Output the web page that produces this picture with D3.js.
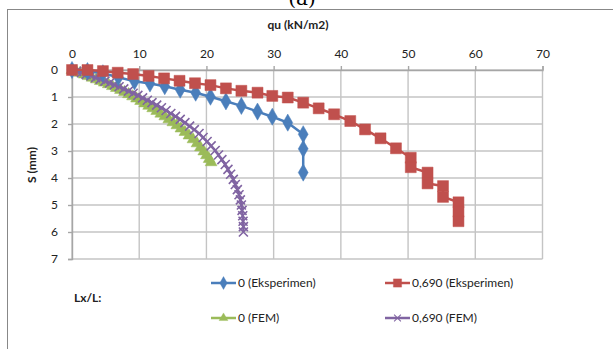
<!DOCTYPE html>
<html>
<head>
<meta charset="utf-8">
<script src="https://cdn.jsdelivr.net/npm/d3@7"></script>
<style>
  html, body { margin: 0; padding: 0; background: #fff; }
  svg { display: block; font-family: Lato, "Open Sans", sans-serif; }
</style>
</head>
<body>
<svg id="chart" width="613" height="349"></svg>
<script>
// Load (qu, kN/m2) vs settlement (S, mm)
const xTicks = [0, 10, 20, 30, 40, 50, 60, 70];
const yTicks = [0, 1, 2, 3, 4, 5, 6, 7];

// Lx/L = 0, experiment
const quExp0 = [0, 2.3, 4.6, 6.9, 9.3, 11.6, 13.8, 16.1, 18.4, 20.6, 22.9, 25.2, 27.6, 29.8, 32.1, 34.4, 34.4, 34.4];
const sExp0  = [0, 0.04, 0.12, 0.27, 0.42, 0.5, 0.6, 0.73, 0.84, 0.99, 1.16, 1.33, 1.54, 1.73, 1.95, 2.38, 2.92, 3.8];

// Lx/L = 0,690, experiment
const quExp69 = [0, 2.3, 4.6, 6.8, 9.1, 11.4, 13.7, 16.0, 18.3, 20.6, 22.9, 25.2, 27.6, 29.8, 32.1, 34.4, 36.7, 39.0, 41.4, 43.6, 45.9, 48.2, 50.4, 50.4, 52.9, 52.9, 55.2, 55.2, 57.5, 57.5, 57.5];
const sExp69  = [0, 0, 0.04, 0.1, 0.15, 0.22, 0.31, 0.4, 0.49, 0.56, 0.68, 0.77, 0.84, 0.96, 1.02, 1.21, 1.42, 1.64, 1.89, 2.2, 2.53, 2.9, 3.25, 3.6, 3.8, 4.2, 4.3, 4.7, 4.9, 5.25, 5.6];

// Lx/L = 0, FEM
const quFem0 = [0, 0.6, 1.2, 1.8, 2.4, 3.0, 3.6, 4.2, 4.8, 5.4, 6.0, 6.6, 7.2, 7.8, 8.4, 9.0, 9.6, 10.2, 10.8, 11.4, 12.0, 12.6, 13.2, 13.8, 14.4, 15.0, 15.6, 16.2, 16.8, 17.4, 18.0, 18.6, 19.1, 19.6, 20.0, 20.4, 20.7];
const sFem0  = [0, 0.05, 0.11, 0.17, 0.23, 0.29, 0.35, 0.41, 0.47, 0.53, 0.6, 0.67, 0.74, 0.82, 0.9, 0.98, 1.06, 1.15, 1.24, 1.33, 1.42, 1.52, 1.62, 1.72, 1.83, 1.94, 2.05, 2.17, 2.3, 2.43, 2.57, 2.72, 2.87, 3.02, 3.16, 3.3, 3.42];

// Lx/L = 0,690, FEM
const quFem69 = [0, 0.7, 1.4, 2.1, 2.8, 3.5, 4.2, 4.9, 5.6, 6.3, 7.0, 7.7, 8.4, 9.1, 9.8, 10.5, 11.2, 11.9, 12.6, 13.3, 14.0, 14.7, 15.4, 16.1, 16.8, 17.5, 18.2, 18.9, 19.5, 20.1, 20.7, 21.3, 21.8, 22.3, 22.8, 23.2, 23.6, 24.0, 24.3, 24.6, 24.85, 25.05, 25.2, 25.3, 25.4, 25.45, 25.5, 25.5];
const sFem69  = [0, 0.05, 0.1, 0.16, 0.22, 0.28, 0.34, 0.41, 0.48, 0.55, 0.62, 0.7, 0.78, 0.86, 0.94, 1.03, 1.12, 1.21, 1.3, 1.4, 1.5, 1.61, 1.72, 1.83, 1.95, 2.08, 2.21, 2.35, 2.5, 2.65, 2.81, 2.98, 3.15, 3.32, 3.5, 3.68, 3.86, 4.05, 4.24, 4.43, 4.62, 4.81, 5.0, 5.2, 5.4, 5.6, 5.8, 6.0];

const seriesNames = ["0 (Eksperimen)", "0,690 (Eksperimen)", "0 (FEM)", "0,690 (FEM)"];
const seriesColors = ["#4A7EBB", "#C0504D", "#9BBB59", "#8064A2"];

const series = [
  { name: seriesNames[0], color: seriesColors[0], shape: "diamond", x: quExp0,  y: sExp0 },
  { name: seriesNames[1], color: seriesColors[1], shape: "square",  x: quExp69, y: sExp69 },
  { name: seriesNames[2], color: seriesColors[2], shape: "triangle",x: quFem0,  y: sFem0 },
  { name: seriesNames[3], color: seriesColors[3], shape: "cross",   x: quFem69, y: sFem69 }
];

const svg = d3.select("#chart");

// chart frame and caption above it
svg.append("text").attr("x", 302).attr("y", 5).attr("text-anchor", "middle")
  .attr("font-family", "'DejaVu Serif', serif").attr("font-size", 20).attr("fill", "#000").text("(a)");
svg.append("rect").attr("x", 7.5).attr("y", 9.5).attr("width", 640).attr("height", 360)
  .attr("fill", "#fff").attr("stroke", "#888").attr("stroke-width", 1);

const x = d3.scaleLinear().domain([0, 70]).range([72, 542.5]);
const y = d3.scaleLinear().domain([0, 7]).range([70, 259]);

// gridlines
const grid = svg.append("g");
grid.selectAll(".gx").data(xTicks).join("line")
  .attr("x1", d => x(d)).attr("x2", d => x(d)).attr("y1", y(0)).attr("y2", y(7))
  .attr("stroke", "#c4c4c4").attr("stroke-width", 1.4);
grid.selectAll(".gy").data(yTicks).join("line")
  .attr("x1", x(0)).attr("x2", x(70)).attr("y1", d => y(d)).attr("y2", d => y(d))
  .attr("stroke", "#c4c4c4").attr("stroke-width", 1.4);

// axes
const xAxis = svg.append("g").attr("transform", `translate(0,${y(0)})`)
  .call(d3.axisTop(x).tickValues(xTicks).tickFormat(d3.format("d")).tickSize(4).tickPadding(8));
const yAxis = svg.append("g").attr("transform", `translate(${x(0)},0)`)
  .call(d3.axisLeft(y).tickValues(yTicks).tickFormat(d3.format("d")).tickSize(4).tickPadding(10));
[xAxis, yAxis].forEach(a => {
  a.select(".domain").attr("stroke", "#a6a6a6").attr("stroke-width", 1.4);
  a.selectAll(".tick line").attr("stroke", "#a6a6a6").attr("stroke-width", 1.4);
  a.selectAll(".tick text").attr("font-family", "Lato, sans-serif").attr("font-size", 12).attr("fill", "#222");
});

// axis titles
svg.append("text").attr("x", 298).attr("y", 29).attr("text-anchor", "middle")
  .attr("font-size", 12).attr("font-weight", "bold").attr("fill", "#222").text("qu (kN/m2)");
svg.append("text").attr("transform", `translate(36,${165}) rotate(-90)`).attr("text-anchor", "middle")
  .attr("font-size", 12).attr("font-weight", "bold").attr("fill", "#222").text("S (mm)");

// marker shapes
function markerPath(shape) {
  switch (shape) {
    case "diamond": return d3.symbol(d3.symbolDiamond, 85)();
    case "square": return d3.symbol(d3.symbolSquare, 120)();
    case "triangle": return d3.symbol(d3.symbolTriangle, 60)();
    default: return "M-4.5,-4.5L4.5,4.5M-4.5,4.5L4.5,-4.5";
  }
}

const line = d3.line().x(d => x(d[0])).y(d => y(d[1]));
const plot = svg.append("g");
// draw order: FEM under experiment
[2, 3, 0, 1].forEach(i => {
  const s = series[i];
  const pts = s.x.map((v, k) => [v, s.y[k]]);
  const g = plot.append("g");
  g.append("path").attr("d", line(pts)).attr("fill", "none")
    .attr("stroke", s.color).attr("stroke-width", 2.5).attr("stroke-linejoin", "round");
  g.selectAll("path.m").data(pts).join("path").attr("class", "m")
    .attr("transform", d => `translate(${x(d[0])},${y(d[1])})`)
    .attr("d", markerPath(s.shape))
    .attr("fill", s.shape === "cross" ? "none" : s.color)
    .attr("stroke", s.color)
    .attr("stroke-width", s.shape === "cross" ? 1.6 : 0.5);
});

// legend
svg.append("text").attr("x", 74).attr("y", 302).attr("font-size", 12)
  .attr("font-weight", "bold").attr("fill", "#222").text("Lx/L:");
const legendPos = [[211, 283], [385, 283], [211, 318], [385, 318]];
series.forEach((s, i) => {
  const [lx, ly] = legendPos[i];
  const g = svg.append("g").attr("transform", `translate(${lx},${ly})`);
  g.append("line").attr("x1", 0).attr("x2", 25).attr("stroke", s.color).attr("stroke-width", 2.5);
  g.append("path").attr("transform", "translate(12.5,0) scale(0.75)").attr("d", markerPath(s.shape))
    .attr("fill", s.shape === "cross" ? "none" : s.color).attr("stroke", s.color)
    .attr("stroke-width", s.shape === "cross" ? 1.4 : 0.5);
  g.append("text").attr("x", 27).attr("y", 4).attr("font-size", 12).attr("fill", "#222").text(s.name);
});
</script>
</body>
</html>
